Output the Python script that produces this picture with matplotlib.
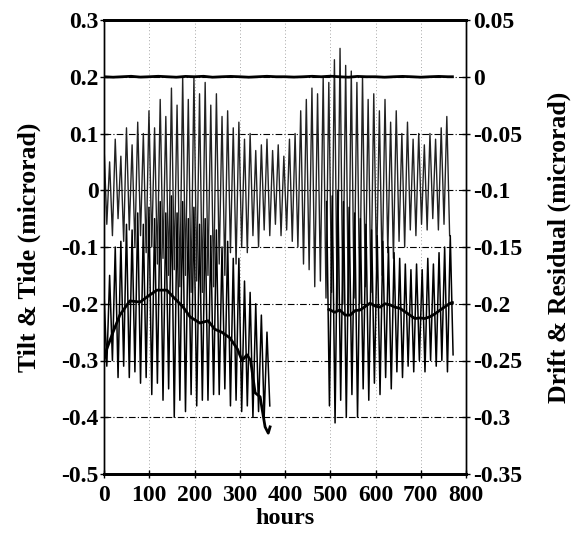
import numpy as np
import matplotlib
matplotlib.use("Agg")
import matplotlib.pyplot as plt

# ---------------- data ----------------
HALF_PERIOD = 6.21  # hours between successive tidal extremes (semi-diurnal)

# Tide (left axis, microrad): peak / trough of each cycle, starting at 0 h
tide_highs = [0.08, 0.05, 0.09, 0.06, 0.11, 0.08, 0.12, 0.10, 0.14, 0.11,
              0.16, 0.13, 0.18, 0.15, 0.20, 0.16, 0.20, 0.17, 0.19, 0.15,
              0.17, 0.13, 0.14, 0.11, 0.12, 0.09, 0.10, 0.07, 0.08, 0.09,
              0.07, 0.08, 0.06, 0.09, 0.10, 0.14, 0.16, 0.18, 0.17, 0.20,
              0.19, 0.23, 0.25, 0.22, 0.21, 0.19, 0.20, 0.16, 0.17, 0.14,
              0.16, 0.12, 0.14, 0.10, 0.12, 0.09, 0.10, 0.08, 0.10, 0.09,
              0.11, 0.13]
tide_lows = [-0.06, -0.08, -0.05, -0.09, -0.07, -0.10, -0.08, -0.11, -0.10, -0.13,
             -0.12, -0.15, -0.14, -0.17, -0.15, -0.18, -0.16, -0.18, -0.15, -0.17,
             -0.13, -0.15, -0.11, -0.13, -0.10, -0.11, -0.08, -0.10, -0.07, -0.08,
             -0.06, -0.08, -0.07, -0.09, -0.10, -0.13, -0.14, -0.17, -0.16, -0.19,
             -0.18, -0.21, -0.20, -0.22, -0.19, -0.20, -0.17, -0.18, -0.14, -0.15,
             -0.11, -0.12, -0.09, -0.10, -0.07, -0.08, -0.06, -0.07, -0.05, -0.07,
             -0.06, -0.08]

# Tilt (left axis): first record starting at 0 h, second starting at 492 h
tilt1_start = 0.0
tilt1_highs = [-0.18, -0.15, -0.10, -0.09, -0.06, -0.07, -0.04, -0.06, -0.03, -0.05,
               -0.02, -0.04, -0.01, -0.04, -0.02, -0.05, -0.03, -0.06, -0.05, -0.08,
               -0.07, -0.10, -0.09, -0.12, -0.12, -0.16, -0.18, -0.20, -0.22, -0.25]
tilt1_lows = [-0.31, -0.30, -0.33, -0.31, -0.33, -0.32, -0.34, -0.33, -0.36, -0.34,
              -0.37, -0.35, -0.40, -0.37, -0.39, -0.36, -0.38, -0.37, -0.37, -0.36,
              -0.36, -0.35, -0.38, -0.37, -0.39, -0.38, -0.40, -0.39, -0.40, -0.38]
tilt2_start = 492.0
tilt2_highs = [-0.02, -0.01, 0.00, -0.02, -0.03, -0.04, -0.05, -0.06, -0.07, -0.08,
               -0.09, -0.10, -0.11, -0.12, -0.13, -0.14, -0.13, -0.14, -0.12, -0.13,
               -0.11, -0.10, -0.08]
tilt2_lows = [-0.38, -0.41, -0.37, -0.40, -0.36, -0.40, -0.35, -0.37, -0.34, -0.36,
              -0.33, -0.35, -0.32, -0.33, -0.31, -0.32, -0.30, -0.32, -0.30, -0.31,
              -0.30, -0.32, -0.29]

# Drift (right axis, microrad)
drift1_hours = [0, 6, 20, 35, 57, 80, 95, 117, 139, 153, 175, 190, 212, 230,
                245, 260, 278, 295, 305, 316, 324, 334, 345, 356, 363, 367]
drift1_vals = [-0.250, -0.240, -0.225, -0.210, -0.1975, -0.1985, -0.194, -0.188,
               -0.188, -0.194, -0.203, -0.2115, -0.217, -0.215, -0.2225, -0.225,
               -0.230, -0.240, -0.250, -0.245, -0.250, -0.2785, -0.282, -0.3085,
               -0.314, -0.3085]
drift2_hours = [497, 510, 521, 533, 544, 555, 566, 577, 588, 599, 610, 621, 632,
                643, 654, 665, 676, 687, 698, 709, 720, 731, 743, 754, 765, 770]
drift2_vals = [-0.205, -0.2075, -0.2055, -0.210, -0.210, -0.206, -0.2055, -0.2025,
               -0.1995, -0.202, -0.203, -0.200, -0.201, -0.203, -0.204, -0.207,
               -0.210, -0.213, -0.2125, -0.213, -0.2115, -0.209, -0.2055, -0.2025,
               -0.1995, -0.199]

# Residual (right axis)
resid_hours = [0, 20, 40, 60, 80, 100, 120, 140, 160, 180, 200, 220, 240, 260,
               280, 300, 320, 340, 360, 380, 400, 420, 440, 460, 480, 500, 520,
               540, 560, 580, 600, 620, 640, 660, 680, 700, 720, 740, 760, 770]
resid_vals = [0.0000, -0.0004, 0.0000, 0.0004, -0.0003, 0.0000, 0.0004, 0.0000, -0.0004,
              0.0003, 0.0000, 0.0004, -0.0004, 0.0000, 0.0003, 0.0000, -0.0004, 0.0000,
              0.0004, 0.0000, 0.0000, -0.0003, 0.0000, 0.0004, 0.0000, 0.0005, 0.0000,
              -0.0004, 0.0003, 0.0000, 0.0000, -0.0004, 0.0000, 0.0003, 0.0000, -0.0004,
              0.0000, 0.0003, 0.0000, 0.0000]

left_ticks = [0.3, 0.2, 0.1, 0, -0.1, -0.2, -0.3, -0.4, -0.5]
left_ticklabels = ["0.3", "0.2", "0.1", "0", "-0.1", "-0.2", "-0.3", "-0.4", "-0.5"]
right_ticks = [0.05, 0, -0.05, -0.1, -0.15, -0.2, -0.25, -0.3, -0.35]
right_ticklabels = ["0.05", "0", "-0.05", "-0.1", "-0.15", "-0.2", "-0.25", "-0.3", "-0.35"]
x_ticks = [0, 100, 200, 300, 400, 500, 600, 700, 800]


def zigzag(start, highs, lows):
    vals = []
    for h, l in zip(highs, lows):
        vals.extend([h, l])
    t = start + np.arange(len(vals)) * HALF_PERIOD
    return t, np.array(vals)


# ---------------- figure ----------------
plt.rcParams['font.family'] = ['Liberation Serif', 'DejaVu Serif']
plt.rcParams['font.weight'] = 'bold'

fig = plt.figure(figsize=(5.73, 5.38), dpi=100)
ax = fig.add_axes([104/573, 1 - 474/538, (466-104)/573, (474-20)/538])
ax2 = ax.twinx()

ax.set_xlim(0, 800)
ax.set_ylim(-0.5, 0.3)
ax2.set_ylim(-0.35, 0.05)

# grid
for y in left_ticks[1:-1]:
    ax.axhline(y, color='black', lw=0.8, ls=(0, (6, 2, 1, 2)), zorder=1)
for x in x_ticks[1:-1]:
    ax.axvline(x, color='#888888', lw=0.6, ls=(0, (1, 3)), zorder=1)

tt, tv = zigzag(0.0, tide_highs, tide_lows)
ax.plot(tt, tv, color='#222222', lw=1.0, zorder=2)
t1, v1 = zigzag(tilt1_start, tilt1_highs, tilt1_lows)
ax.plot(t1, v1, color='black', lw=1.1, zorder=3)
t2, v2 = zigzag(tilt2_start, tilt2_highs, tilt2_lows)
ax.plot(t2, v2, color='black', lw=1.1, zorder=3)

ax2.plot(drift1_hours, drift1_vals, color='black', lw=2.0, zorder=4)
ax2.plot(drift2_hours, drift2_vals, color='black', lw=2.0, zorder=4)
ax2.plot(resid_hours, resid_vals, color='black', lw=2.0, zorder=4)

ax.set_xticks(x_ticks)
ax.set_xticklabels([str(x) for x in x_ticks])
ax.set_yticks(left_ticks)
ax.set_yticklabels(left_ticklabels)
ax2.set_yticks(right_ticks)
ax2.set_yticklabels(right_ticklabels)

fs = 17
ax.tick_params(axis='y', labelsize=fs, direction='inout', length=6, width=1, pad=1)
ax.tick_params(axis='x', labelsize=fs, direction='inout', length=6, width=1, pad=5)
ax2.tick_params(axis='y', labelsize=fs, direction='inout', length=6, width=1, pad=2)
for lab in ax.get_xticklabels() + ax.get_yticklabels() + ax2.get_yticklabels():
    lab.set_fontweight('bold')

for a in (ax, ax2):
    a.spines['top'].set_linewidth(2)
    a.spines['bottom'].set_linewidth(2)
    a.spines['left'].set_linewidth(1)
    a.spines['right'].set_linewidth(1)

lfs = 18.5
ax.set_xlabel('hours', fontsize=17.5, fontweight='bold')
ax.set_ylabel('Tilt & Tide (microrad)', fontsize=lfs, fontweight='bold')
ax2.set_ylabel('Drift & Residual (microrad)', fontsize=lfs, fontweight='bold')
ax.xaxis.set_label_coords(0.5, -0.075)
ax.yaxis.set_label_coords(-0.174, 0.5)
ax2.yaxis.set_label_coords(1.225, 0.5)

fig.savefig('out.png', dpi=100)
